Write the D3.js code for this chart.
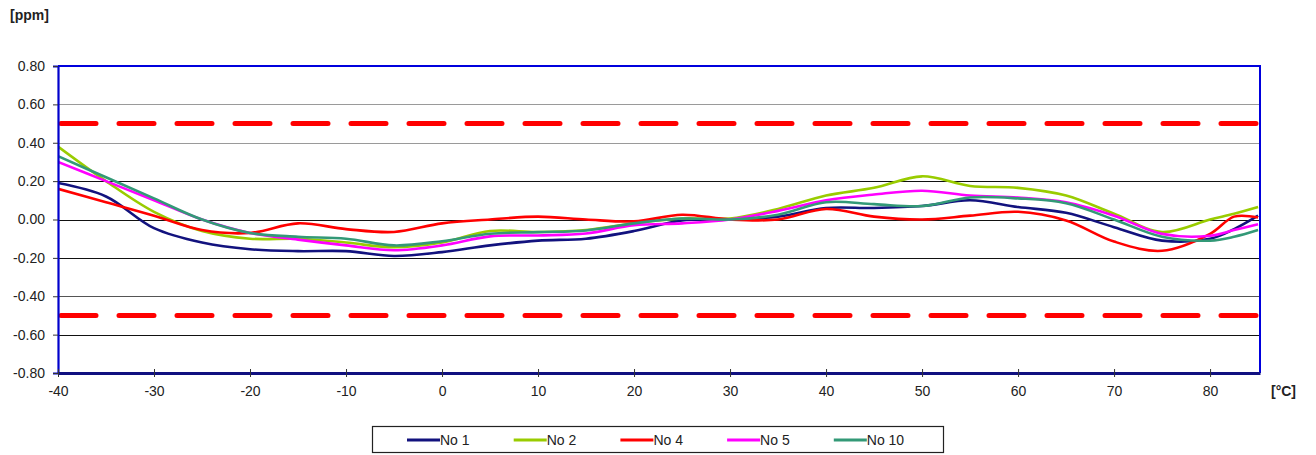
<!DOCTYPE html>
<html>
<head>
<meta charset="utf-8">
<script src="https://cdn.jsdelivr.net/npm/d3@7"></script>
<style>
  html, body { margin: 0; padding: 0; background: #fff; }
  svg { display: block; }
  text { font-family: "Liberation Sans", Arial, sans-serif; fill: #222; }
</style>
</head>
<body>
<svg id="chart" width="1316" height="455"></svg>
<script>
// ---- Data ----
const temps = [-40,-35,-30,-25,-20,-15,-10,-5,0,5,10,15,20,25,30,35,40,45,50,55,60,65,70,75,80,82.5,85];
const no1  = [0.19,0.12,-0.045,-0.12,-0.155,-0.165,-0.165,-0.19,-0.17,-0.135,-0.11,-0.10,-0.06,-0.005,0.0,0.015,0.06,0.06,0.07,0.10,0.065,0.035,-0.04,-0.11,-0.10,-0.05,0.02];
const no2  = [0.38,0.20,0.04,-0.06,-0.10,-0.10,-0.12,-0.145,-0.12,-0.06,-0.065,-0.055,-0.02,0.005,0.005,0.055,0.125,0.165,0.225,0.175,0.165,0.125,0.03,-0.065,0.0,0.03,0.065];
const no4  = [0.16,0.09,0.02,-0.055,-0.07,-0.02,-0.05,-0.065,-0.02,0.0,0.015,0.0,-0.01,0.025,0.0,0.0,0.055,0.015,0.0,0.02,0.04,-0.005,-0.115,-0.163,-0.075,0.015,0.01];
const no5  = [0.30,0.20,0.10,0.0,-0.07,-0.105,-0.135,-0.16,-0.135,-0.088,-0.083,-0.073,-0.03,-0.02,0.0,0.045,0.10,0.13,0.15,0.125,0.115,0.09,0.02,-0.075,-0.085,-0.055,-0.025];
const no10 = [0.33,0.22,0.11,0.0,-0.07,-0.09,-0.10,-0.135,-0.113,-0.074,-0.066,-0.057,-0.02,0.005,0.0,0.025,0.09,0.08,0.07,0.115,0.11,0.085,0.0,-0.09,-0.11,-0.09,-0.055];
const seriesNames = ["No 1","No 2","No 4","No 5","No 10"];
const seriesColors = ["#12127e","#99cc00","#ff0000","#ff00ff","#339977"];
const xTicks = [-40,-30,-20,-10,0,10,20,30,40,50,60,70,80];
const yTicks = [0.8,0.6,0.4,0.2,0,-0.2,-0.4,-0.6,-0.8];
const limits = [0.5,-0.5];

const seriesValues = [no1,no2,no4,no5,no10];
const series = seriesNames.map((n,i)=>({name:n,color:seriesColors[i],values:temps.map((t,j)=>({t,v:seriesValues[i][j]}))}));

// ---- Layout ----
const L = 58, R = 1260, T = 66, B = 373;
const svg = d3.select("#chart");
const x = d3.scaleLinear().domain([-40,85.2]).range([L,R]);
const y = d3.scaleLinear().domain([-0.8,0.8]).range([B,T]);

// gridlines
const gridColor = v => {
  const k = Math.round(v*10)/10;
  if (k === 0.6 || k === 0.4) return "#9a9a9a";
  if (k === -0.4) return "#555";
  return "#111";
};
svg.append("g").selectAll("line").data(yTicks.filter(v=>Math.abs(v)<0.79)).join("line")
  .attr("x1",L).attr("x2",R)
  .attr("y1",d=>Math.round(y(d))+0.5).attr("y2",d=>Math.round(y(d))+0.5)
  .attr("stroke",gridColor).attr("stroke-width",1.2);

// limit dashed lines
svg.append("g").selectAll("line").data(limits).join("line")
  .attr("x1",L+3).attr("x2",R-1)
  .attr("y1",d=>y(d)).attr("y2",d=>y(d))
  .attr("stroke","#ff0000").attr("stroke-width",5)
  .attr("stroke-dasharray","35,23").attr("stroke-linecap","round");

// series lines
const line = d3.line().x(d=>x(d.t)).y(d=>y(d.v)).curve(d3.curveCatmullRom.alpha(0.5));
svg.append("defs").append("clipPath").attr("id","clip")
  .append("rect").attr("x",L).attr("y",T).attr("width",R-L).attr("height",B-T);
svg.append("g").attr("clip-path","url(#clip)").selectAll("path").data(series).join("path")
  .attr("d",d=>line(d.values)).attr("fill","none")
  .attr("stroke",d=>d.color).attr("stroke-width",2.6).attr("stroke-linejoin","round");

// frame: top, right (blue)
svg.append("path").attr("d",`M${L},${T}H${R}V${B}`).attr("fill","none")
  .attr("stroke","#0000dd").attr("stroke-width",2);

// y axis
const yAxis = d3.axisLeft(y).tickValues(yTicks).tickFormat(d3.format(".2f")).tickSize(5).tickPadding(8);
const gy = svg.append("g").attr("transform",`translate(${L},0)`).call(yAxis);
gy.select(".domain").attr("stroke","#0000cc").attr("stroke-width",2.2);
gy.selectAll(".tick line").attr("stroke","#333");
gy.selectAll(".tick text").attr("font-size",14).attr("font-family","Liberation Sans, Arial, sans-serif").attr("fill","#222")
  .text(d=>d3.format(".2f")(d).replace("−","-"));

// x axis
const xAxis = d3.axisBottom(x).tickValues(xTicks).tickFormat(d=>String(d)).tickSize(4).tickPadding(9).tickSizeOuter(0);
const gx = svg.append("g").attr("transform",`translate(0,${B})`).call(xAxis);
gx.select(".domain").attr("stroke","#101080").attr("stroke-width",3);
gx.selectAll(".tick line").attr("stroke","#333").attr("y1",-4);
gx.selectAll(".tick text").attr("font-size",14).attr("font-family","Liberation Sans, Arial, sans-serif").attr("fill","#222");

// unit labels
svg.append("text").attr("x",10).attr("y",20).attr("font-size",14).attr("font-weight","bold").text("[ppm]");
svg.append("text").attr("x",1271).attr("y",396).attr("font-size",14).attr("font-weight","bold").text("[°C]");

// legend
const lg = svg.append("g");
lg.append("rect").attr("x",372.5).attr("y",426.5).attr("width",571).attr("height",26)
  .attr("fill","#fff").attr("stroke","#222").attr("stroke-width",1.2);
const items = lg.selectAll("g.item").data(series).join("g").attr("class","item")
  .attr("transform",(d,i)=>`translate(${407 + i*106.7},440)`);
items.append("line").attr("x1",0).attr("x2",33).attr("y1",0).attr("y2",0)
  .attr("stroke",d=>d.color).attr("stroke-width",3);
items.append("text").attr("x",33).attr("y",5).attr("font-size",14).text(d=>d.name);
</script>
</body>
</html>
